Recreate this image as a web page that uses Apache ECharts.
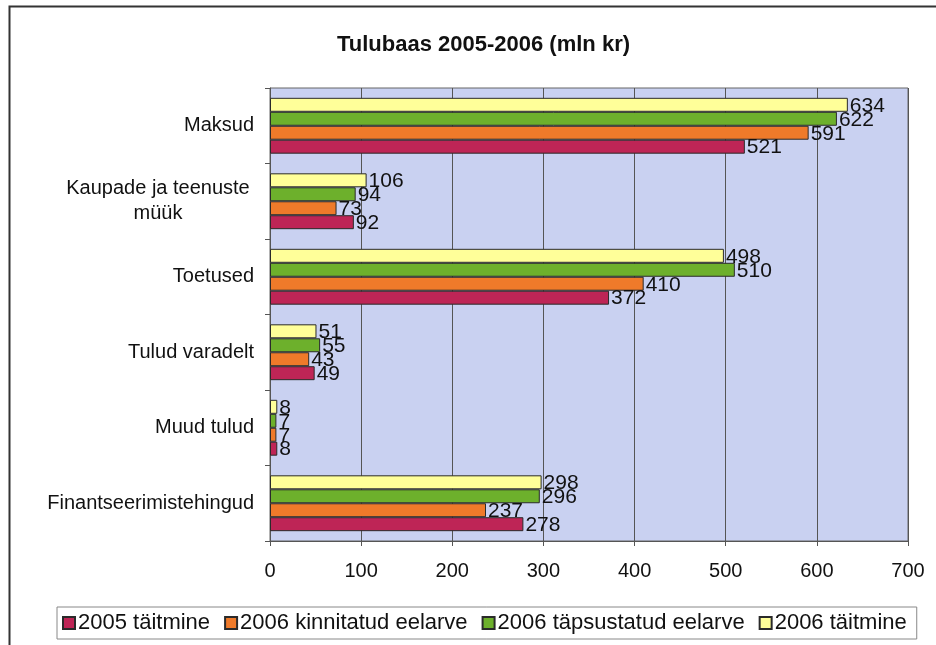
<!DOCTYPE html>
<html>
<head>
<meta charset="utf-8">
<script src="https://cdn.jsdelivr.net/npm/echarts@6/dist/echarts.min.js"></script>
<style>
  html, body { margin: 0; padding: 0; background: #fff; }
  #chart { width: 936px; height: 645px; }
</style>
</head>
<body>
<div id="chart"></div>
<script>
// andmed
var categories = ['Maksud', 'Kaupade ja teenuste\nmüük', 'Toetused', 'Tulud varadelt', 'Muud tulud', 'Finantseerimistehingud'];
var taitmine2005 = [521, 92, 372, 49, 8, 278];
var kinnitatud2006 = [591, 73, 410, 43, 7, 237];
var tapsustatud2006 = [622, 94, 510, 55, 7, 296];
var taitmine2006 = [634, 106, 498, 51, 8, 298];
var xTicks = [0, 100, 200, 300, 400, 500, 600, 700];

var font = 'Liberation Sans, Arial, sans-serif';
var chart = echarts.init(document.getElementById('chart'));

function barSeries(name, data, color) {
  return {
    name: name,
    type: 'bar',
    data: data,
    barGap: '0%',
    barCategoryGap: '26%',
    itemStyle: { color: color, borderColor: '#2a2a2a', borderWidth: 1 },
    label: {
      show: true,
      position: 'right',
      distance: 2,
      color: '#111',
      fontFamily: font,
      fontSize: 21,
      offset: [0, 1]
    }
  };
}

var option = {
  animation: false,
  backgroundColor: '#fff',
  title: {
    text: 'Tulubaas 2005-2006 (mln kr)',
    left: 332,
    top: 29,
    textStyle: { fontFamily: font, fontSize: 22, fontWeight: 'bold', color: '#111' }
  },
  graphic: [{
    type: 'rect',
    shape: { x: 9.5, y: 6.5, width: 960, height: 700 },
    style: { fill: 'none', stroke: '#333', lineWidth: 2 },
    silent: true
  }],
  legend: {
    data: ['2005 täitmine', '2006 kinnitatud eelarve', '2006 täpsustatud eelarve', '2006 täitmine'],
    left: 57,
    top: 607,
    icon: 'rect',
    itemWidth: 12,
    itemHeight: 12,
    itemGap: 14,
    padding: [5, 10, 5, 5],
    borderColor: '#888',
    borderWidth: 1,
    backgroundColor: '#fff',
    textStyle: { fontFamily: font, fontSize: 22, color: '#111', padding: [0, 0, 0, -2] }
  },
  grid: {
    left: 270,
    right: 28,
    top: 88,
    bottom: 104,
    show: true,
    backgroundColor: '#c9d1f1',
    borderColor: '#666',
    borderWidth: 1
  },
  xAxis: {
    type: 'value',
    min: 0,
    max: 700,
    interval: 100,
    axisLine: { show: true, lineStyle: { color: '#555' } },
    axisTick: { show: true, length: 5, lineStyle: { color: '#555' } },
    splitLine: { show: true, lineStyle: { color: '#555', width: 1 } },
    axisLabel: {
      fontFamily: font, fontSize: 20, color: '#111', margin: 20,
      formatter: function (v) { return xTicks.indexOf(v) >= 0 ? String(v) : ''; }
    }
  },
  yAxis: {
    type: 'category',
    data: categories,
    inverse: true,
    axisLine: { show: true, lineStyle: { color: '#555' } },
    axisTick: { show: true, length: 5, lineStyle: { color: '#555' } },
    axisLabel: {
      fontFamily: font, fontSize: 20, color: '#111', margin: 16, lineHeight: 25,
      formatter: function (v) {
        if (v.indexOf('\n') < 0) return v;
        var parts = v.split('\n');
        return '{c|' + parts[0] + '}\n{c|' + parts[1] + '}';
      },
      rich: {
        c: { fontFamily: font, fontSize: 20, color: '#111', lineHeight: 25, width: 192, align: 'center' }
      }
    }
  },
  series: [
    barSeries('2006 täitmine', taitmine2006, '#ffff99'),
    barSeries('2006 täpsustatud eelarve', tapsustatud2006, '#6db02c'),
    barSeries('2006 kinnitatud eelarve', kinnitatud2006, '#ef7a2a'),
    barSeries('2005 täitmine', taitmine2005, '#be2556')
  ]
};
chart.setOption(option);
</script>
</body>
</html>
